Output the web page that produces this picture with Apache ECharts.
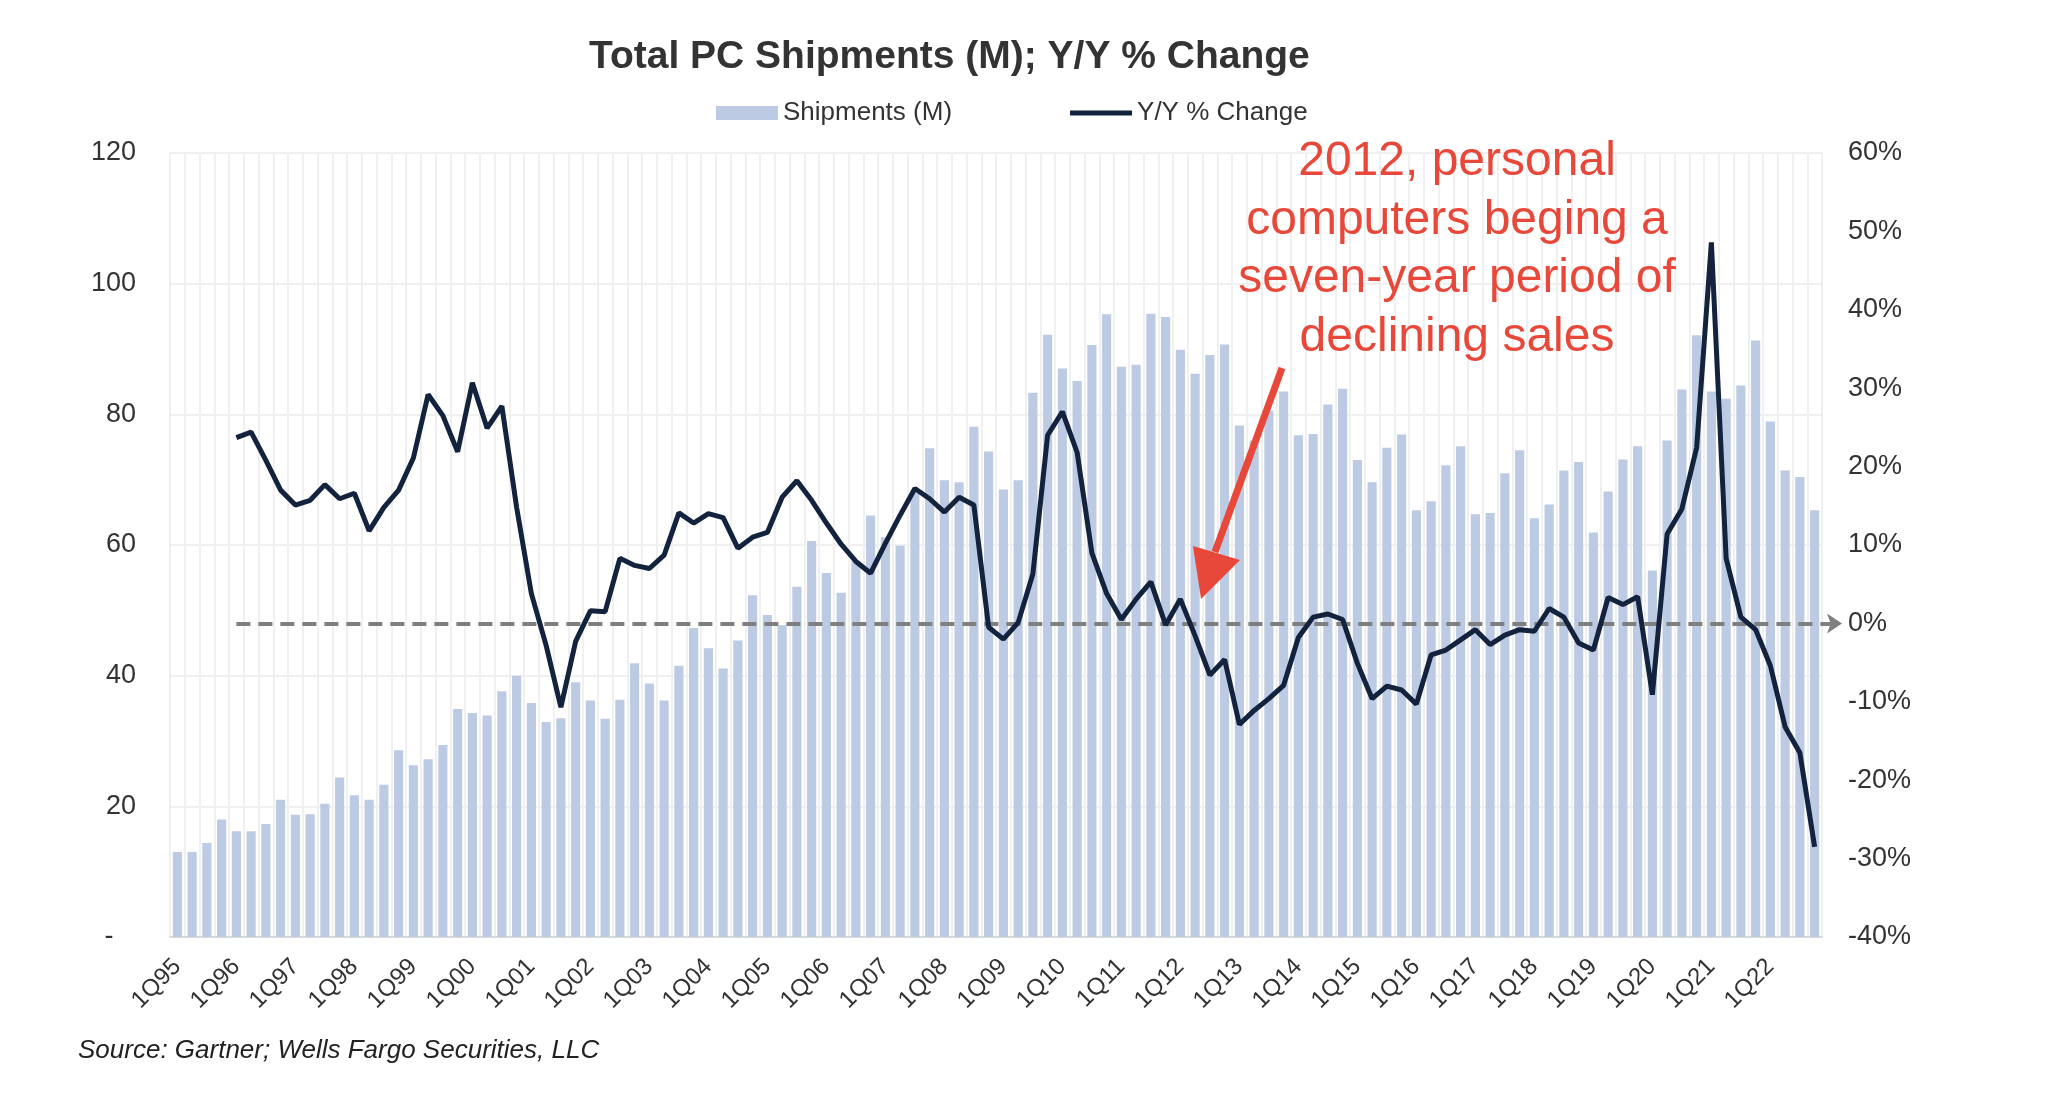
<!DOCTYPE html>
<html>
<head>
<meta charset="utf-8">
<title>Total PC Shipments (M); Y/Y % Change</title>
<script src="https://cdn.jsdelivr.net/npm/echarts@6/dist/echarts.min.js"></script>
<style>
    html, body { margin: 0; padding: 0; background: #fff; }
    #main { width: 2046px; height: 1098px; }
</style>
</head>
<body>
<div id="main"></div>
<script>
// years shown on the category axis, 4 quarters each
var years = ['95', '96', '97', '98', '99', '00', '01', '02', '03', '04', '05', '06', '07', '08',
             '09', '10', '11', '12', '13', '14', '15', '16', '17', '18', '19', '20', '21', '22'];
var quarters = [];
years.forEach(function (y) {
    for (var q = 1; q <= 4; q++) {
        quarters.push(q + 'Q' + y);
    }
});

// shipments, millions (one row per year)
var shipments = [
    13.0, 13.0, 14.4, 18.0,
    16.2, 16.2, 17.3, 21.0,
    18.7, 18.8, 20.4, 24.4,
    21.7, 21.0, 23.3, 28.6,
    26.3, 27.2, 29.4, 34.9,
    34.3, 33.9, 37.6, 40.0,
    35.8, 32.9, 33.5, 39.0,
    36.2, 33.4, 36.3, 41.9,
    38.8, 36.2, 41.5, 47.3,
    44.2, 41.1, 45.4, 52.3,
    49.3, 47.7, 53.6, 60.6,
    55.7, 52.7, 57.5, 64.5,
    61.2, 59.9, 68.0, 74.8,
    69.9, 69.6, 78.1, 74.3,
    68.5, 69.9, 83.3, 92.2,
    87.0, 85.1, 90.6, 95.3,
    87.3, 87.6, 95.4, 94.9,
    89.9, 86.2, 89.1, 90.7,
    78.3, 76.0, 80.6, 83.5,
    76.8, 77.0, 81.5, 83.9,
    73.0, 69.6, 74.9, 76.9,
    65.3, 66.7, 72.2, 75.1,
    64.7, 64.9, 71.0, 74.5,
    64.1, 66.2, 71.4, 72.7,
    61.9, 68.2, 73.1, 75.1,
    56.1, 76.0, 83.8, 92.1,
    83.5, 82.4, 84.4, 91.3,
    78.9, 71.4, 70.4, 65.3
];

// year over year change, % (no value for 1995)
var yoy = [
    null, null, null, null,
    23.7, 24.4, 20.8, 17.0,
    15.1, 15.7, 17.7, 15.9,
    16.6, 11.8, 14.8, 17.0,
    21.1, 29.2, 26.5, 21.9,
    30.7, 24.9, 27.7, 14.8,
    3.8, -2.8, -10.7, -2.3,
    1.6, 1.5, 8.3, 7.4,
    7.0, 8.7, 14.1, 12.8,
    14.0, 13.5, 9.6, 11.0,
    11.6, 16.1, 18.2, 15.7,
    12.8, 10.1, 7.9, 6.4,
    10.2, 13.8, 17.2, 15.9,
    14.2, 16.1, 15.1, -0.5,
    -2.0, 0.1, 6.3, 24.0,
    27.0, 21.8, 9.0, 3.8,
    0.5, 3.1, 5.3, -0.2,
    3.1, -1.6, -6.6, -4.6,
    -12.9, -11.1, -9.6, -7.9,
    -1.8, 0.8, 1.2, 0.5,
    -5.1, -9.6, -8.0, -8.5,
    -10.3, -4.0, -3.4, -2.1,
    -0.8, -2.7, -1.5, -0.8,
    -1.0, 1.9, 0.8, -2.5,
    -3.4, 3.3, 2.4, 3.4,
    -9.1, 11.4, 14.6, 22.4,
    48.6, 8.3, 0.8, -0.8,
    -5.4, -13.2, -16.5, -28.5
];

var leftTicks = [0, 120, 20];     // min, max, step
var rightTicks = [-40, 60, 10];

var FONT = '"Liberation Sans", Arial, Helvetica, sans-serif';
var RED = '#e8483a';
var NAVY = '#14233d';

// plot area
var gTop = 153, gBottom = 161, gLeft = 170, gRight = 224;
var gHeight = 1098 - gTop - gBottom;
var zeroY = gTop + gHeight * (rightTicks[1] / (rightTicks[1] - rightTicks[0]));

var myChart = echarts.init(document.getElementById('main'));

var option = {
    animation: false,
    textStyle: { fontFamily: FONT },
    title: {
        text: 'Total PC Shipments (M); Y/Y % Change',
        left: 584,
        top: 33,
        textStyle: { fontSize: 39, fontWeight: 'bold', color: '#333', fontFamily: FONT }
    },
    legend: {
        left: 711,
        top: 95,
        itemWidth: 62,
        itemHeight: 14,
        itemGap: 118,
        textStyle: { fontSize: 26, color: '#333', fontFamily: FONT },
        data: [
            { name: 'Shipments (M)', icon: 'rect' },
            { name: 'Y/Y % Change', icon: 'path://M0,0L62,0L62,5L0,5Z' }
        ]
    },
    grid: { left: gLeft, right: gRight, top: gTop, bottom: gBottom },
    xAxis: {
        type: 'category',
        data: quarters,
        boundaryGap: true,
        axisLine: { lineStyle: { color: '#d9d9d9', width: 2 } },
        axisTick: { show: false },
        axisLabel: {
            interval: 3,
            rotate: 45,
            fontSize: 24,
            color: '#333',
            margin: 26
        },
        splitLine: { show: true, interval: 0, lineStyle: { color: '#f0f0f0', width: 2 } }
    },
    yAxis: [
        {
            type: 'value',
            min: leftTicks[0], max: leftTicks[1], interval: leftTicks[2],
            axisLine: { show: false },
            axisTick: { show: false },
            axisLabel: {
                fontSize: 27, color: '#333', margin: 34,
                formatter: function (v) { return v === 0 ? '-   ' : v; }
            },
            splitLine: { lineStyle: { color: '#f0f0f0', width: 2 } }
        },
        {
            type: 'value',
            position: 'right',
            min: rightTicks[0], max: rightTicks[1], interval: rightTicks[2],
            axisLine: { show: false },
            axisTick: { show: false },
            axisLabel: { fontSize: 27, color: '#333', margin: 26, formatter: '{value}%' },
            splitLine: { show: false }
        }
    ],
    series: [
        {
            name: 'Shipments (M)',
            type: 'bar',
            data: shipments,
            barCategoryGap: '38%',
            itemStyle: { color: '#bccbe3' },
            z: 1
        },
        {
            name: 'Y/Y % Change',
            type: 'line',
            yAxisIndex: 1,
            data: yoy,
            symbol: 'none',
            color: NAVY,
            lineStyle: { color: NAVY, width: 5 },
            z: 5,
            markLine: {
                silent: true,
                symbol: ['none', 'arrow'],
                symbolSize: 15,
                label: { show: false },
                lineStyle: { color: '#7f7f7f', type: [14, 8], width: 4 },
                data: [
                    [{ coord: [quarters[4], 0] }, { x: 1842, y: zeroY }]
                ]
            }
        }
    ],
    graphic: [
        {
            type: 'text',
            x: 1457,
            y: 133,
            z: 100,
            style: {
                text: '2012, personal\ncomputers beging a\nseven-year period of\ndeclining sales',
                align: 'center',
                verticalAlign: 'top',
                font: '48px ' + FONT,
                lineHeight: 58.5,
                fill: RED
            }
        },
        {
            type: 'polyline',
            z: 100,
            shape: { points: [[1282, 368], [1215, 552]] },
            style: { stroke: RED, lineWidth: 7, fill: null }
        },
        {
            type: 'polygon',
            z: 100,
            shape: { points: [[1193, 546], [1240, 560], [1201, 599]] },
            style: { fill: RED }
        },
        {
            type: 'text',
            x: 78,
            y: 1051,
            style: {
                text: 'Source: Gartner; Wells Fargo Securities, LLC',
                align: 'left',
                verticalAlign: 'middle',
                font: 'italic 26px ' + FONT,
                fill: '#222'
            }
        }
    ]
};

myChart.setOption(option);
</script>
</body>
</html>
